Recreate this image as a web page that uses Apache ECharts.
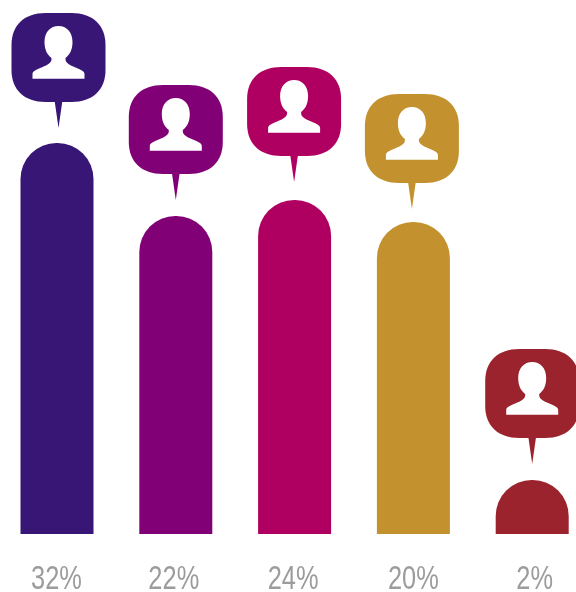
<!DOCTYPE html>
<html>
<head>
<meta charset="utf-8">
<style>html,body{margin:0;padding:0;background:#fff;width:576px;height:592px;overflow:hidden}#c{width:600px;height:592px;margin-left:-3px}</style>
<script src="https://cdn.jsdelivr.net/npm/echarts@6/dist/echarts.min.js"></script>
</head>
<body>
<div id="c"></div>
<script>
const shareLabels = ['32%', '22%', '24%', '20%', '2%'];
const barHeights = [391, 318, 334, 312, 54];
const pinTips = [406, 334, 352, 325, 70];
const barColors = ['#371675', '#820076', '#AF0061', '#C3922E', '#9A232D'];

const pinNudge = [1.5, 0, -0.5, -1.5, 0];
const labelNudge = [-0.5, -2, -1.5, 0, 2.5];

const personPath = 'M-26,-49.3 L-26,-54 C-26,-57 -22,-58.5 -17,-60.5 C-11,-63 -7,-65 -7,-69 L-7,-70 ' +
  'C-11,-73 -14,-78 -14,-86 C-14,-96 -8,-102 0,-102 C8,-102 14,-96 14,-86 C14,-78 11,-73 7,-70 ' +
  'L7,-69 C7,-65 11,-63 17,-60.5 C22,-58.5 26,-57 26,-54 L26,-49.3 Z';
const bubblePath = 'M-13,-115 L13,-115 C34,-115 47,-103 47,-83 L47,-58 C47,-38 34,-26 13,-26 ' +
  'L-13,-26 C-34,-26 -47,-38 -47,-58 L-47,-83 C-47,-103 -34,-115 -13,-115 Z';

const chart = echarts.init(document.getElementById('c'), null, {renderer: 'canvas'});
chart.setOption({
  animation: false,
  backgroundColor: '#fff',
  grid: {left: 0.6, width: 594, top: 0, bottom: 58, containLabel: false},
  xAxis: {
    type: 'category',
    data: shareLabels,
    axisLine: {show: false},
    axisTick: {show: false},
    axisLabel: {show: false}
  },
  yAxis: {type: 'value', min: 0, max: 534, show: false, splitLine: {show: false}},
  series: [
    {
      type: 'bar',
      barWidth: 73,
      data: barHeights.map((v, i) => ({value: v, itemStyle: {color: barColors[i], borderRadius: [36, 36, 0, 0]}}))
    },
    {
      type: 'custom',
      clip: false,
      z: 5,
      data: pinTips.map((v, i) => [i, v]),
      encode: {x: 0, y: 1},
      renderItem(params, api) {
        const i = params.dataIndex;
        const tip = api.coord([api.value(0), api.value(1)]);
        const base = api.coord([api.value(0), 0]);
        const color = barColors[i];
        return {
          type: 'group',
          children: [
            {
              type: 'group',
              x: tip[0] + pinNudge[i],
              y: tip[1],
              children: [
                {type: 'polygon', shape: {points: [[-4, -28], [4, -28], [0, 0]]}, style: {fill: color}},
                {type: 'path', shape: {pathData: bubblePath, layout: 'center', x: -47, y: -115, width: 94, height: 89}, style: {fill: color}},
                {type: 'path', shape: {pathData: personPath, layout: 'center', x: -26, y: -102, width: 52, height: 52.7}, style: {fill: '#fff'}}
              ]
            },
            {
              type: 'text',
              x: base[0] + labelNudge[i],
              y: base[1] + 45.5,
              scaleX: 0.77,
              style: {
                text: shareLabels[i],
                fill: '#9c9c9c',
                font: '33px "Liberation Sans", sans-serif',
                align: 'center',
                verticalAlign: 'middle'
              }
            }
          ]
        };
      }
    }
  ]
});
</script>
</body>
</html>
